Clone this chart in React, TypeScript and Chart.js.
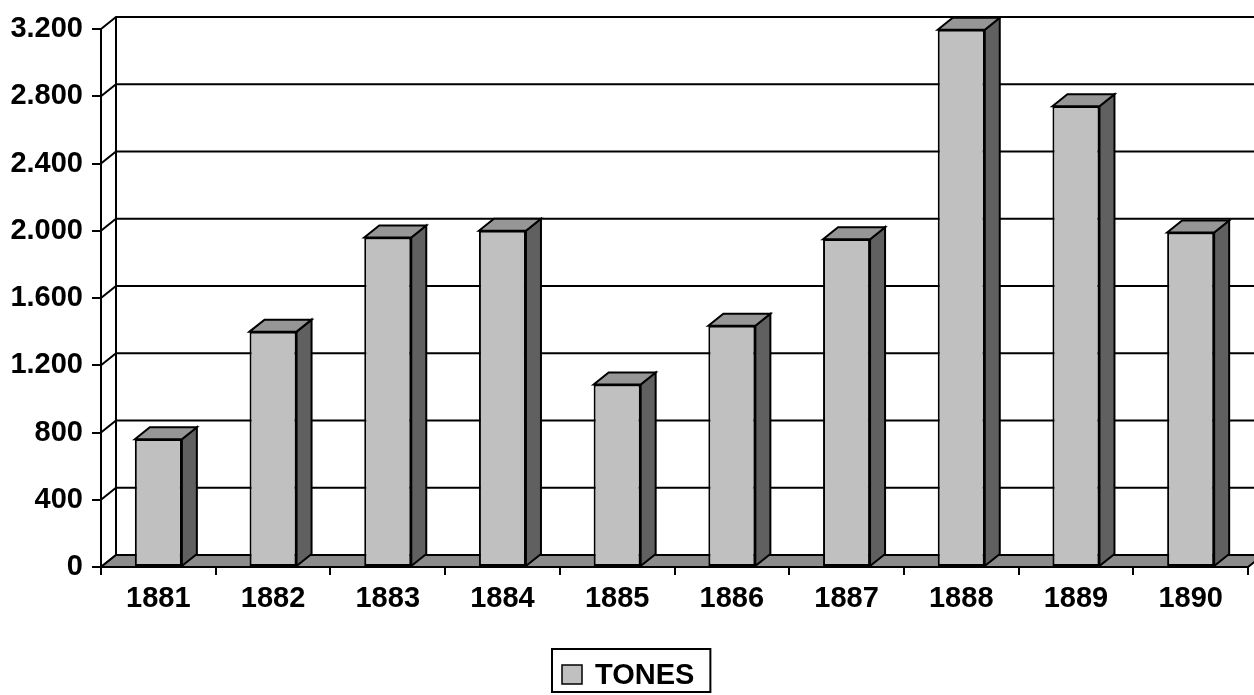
import React, { useEffect, useRef } from "react";
import { Chart, registerables } from "chart.js";

Chart.register(...registerables);

// ---- data ----
const YEARS: string[] = ["1881", "1882", "1883", "1884", "1885", "1886", "1887", "1888", "1889", "1890"];
const TONES: number[] = [760, 1400, 1960, 2000, 1085, 1435, 1950, 3195, 2740, 1990];
const SERIES_LABEL = "TONES";
const Y_MIN = 0;
const Y_MAX = 3200;
const Y_STEP = 400;

// ---- style ----
const FRONT = "#c0c0c0";
const SIDE = "#606060";
const TOP = "#969696";
const FLOOR = "#8c8c8c";
const DX = 15;
const DY = 12;
const FONT = '"Liberation Sans", Arial, Helvetica, sans-serif';
const FONT_SIZE = 29;

function fmt(v: number): string {
  return String(v).replace(/\B(?=(\d{3})+(?!\d))/g, ".");
}

const depthPlugin = {
  id: "depth3d",
  beforeDatasetsDraw(chart: any) {
    const { ctx, chartArea: a } = chart;
    const y = chart.scales.y;
    ctx.save();
    ctx.strokeStyle = "#000";
    ctx.lineWidth = 2;
    ctx.lineJoin = "miter";
    for (let v = Y_MIN; v <= Y_MAX; v += Y_STEP) {
      const py = y.getPixelForValue(v);
      ctx.beginPath();
      ctx.moveTo(a.left, py);
      ctx.lineTo(a.left + DX, py - DY);
      if (v !== Y_MIN) ctx.lineTo(a.right + DX, py - DY);
      ctx.stroke();
    }
    ctx.beginPath();
    ctx.moveTo(a.left + DX, a.top - DY);
    ctx.lineTo(a.left + DX, a.bottom - DY);
    ctx.stroke();
    // floor
    ctx.beginPath();
    ctx.moveTo(a.left, a.bottom);
    ctx.lineTo(a.right, a.bottom);
    ctx.lineTo(a.right + DX, a.bottom - DY);
    ctx.lineTo(a.left + DX, a.bottom - DY);
    ctx.closePath();
    ctx.fillStyle = FLOOR;
    ctx.fill();
    ctx.stroke();
    ctx.restore();
  },
  afterDatasetsDraw(chart: any) {
    const { ctx } = chart;
    const meta = chart.getDatasetMeta(0);
    ctx.save();
    ctx.strokeStyle = "#000";
    ctx.lineWidth = 2;
    ctx.lineJoin = "miter";
    meta.data.forEach((el: any) => {
      const { x, y, base, width } = el.getProps(["x", "y", "base", "width"], true);
      const L = x - width / 2;
      const R = x + width / 2;
      // side face
      ctx.beginPath();
      ctx.moveTo(R, y);
      ctx.lineTo(R + DX, y - DY);
      ctx.lineTo(R + DX, base - DY);
      ctx.lineTo(R, base);
      ctx.closePath();
      ctx.fillStyle = SIDE;
      ctx.fill();
      ctx.stroke();
      // top face
      ctx.beginPath();
      ctx.moveTo(L, y);
      ctx.lineTo(L + DX, y - DY);
      ctx.lineTo(R + DX, y - DY);
      ctx.lineTo(R, y);
      ctx.closePath();
      ctx.fillStyle = TOP;
      ctx.fill();
      ctx.stroke();
    });
    ctx.restore();
  },
  afterDraw(chart: any) {
    const { ctx } = chart;
    ctx.save();
    ctx.font = `bold ${FONT_SIZE}px ${FONT}`;
    const tw = ctx.measureText(SERIES_LABEL).width;
    const padL = 10, sw = 20, gap = 13, padR = 16;
    const bw = padL + sw + gap + tw + padR;
    const bh = 43;
    const bx = Math.round(chart.width / 2 + 4.5 - bw / 2);
    const by = chart.height - 46;
    ctx.fillStyle = "#fff";
    ctx.fillRect(bx, by, bw, bh);
    ctx.strokeStyle = "#000";
    ctx.lineWidth = 2;
    ctx.strokeRect(bx, by, bw, bh);
    ctx.fillStyle = FRONT;
    ctx.fillRect(bx + padL, by + 16, sw, 19);
    ctx.lineWidth = 1.5;
    ctx.strokeRect(bx + padL, by + 16, sw, 19);
    ctx.fillStyle = "#000";
    ctx.textBaseline = "alphabetic";
    ctx.textAlign = "left";
    ctx.fillText(SERIES_LABEL, bx + padL + sw + gap, by + 35);
    ctx.restore();
  },
};

export default function App() {
  const ref = useRef<HTMLCanvasElement | null>(null);
  useEffect(() => {
    if (!ref.current) return;
    const tickFont = { family: FONT, size: FONT_SIZE, weight: "bold" as const };
    const chart = new Chart(ref.current, {
      type: "bar",
      data: {
        labels: YEARS,
        datasets: [
          {
            label: SERIES_LABEL,
            data: TONES,
            backgroundColor: FRONT,
            borderColor: "#000",
            borderWidth: 2,
            borderSkipped: false,
            barPercentage: 0.41,
            categoryPercentage: 1,
          },
        ],
      },
      options: {
        responsive: false,
        animation: false,
        layout: { padding: { top: 29, right: 6, left: 0, bottom: 0 } },
        plugins: { legend: { display: false }, tooltip: { enabled: false } },
        scales: {
          x: {
            grid: { offset: true, drawOnChartArea: false, drawTicks: true, tickLength: 8, color: "#000", lineWidth: 2 },
            border: { display: true, color: "#000", width: 2 },
            ticks: { font: tickFont, color: "#000", padding: 7, maxRotation: 0, autoSkip: false },
            afterFit: (s: any) => { s.height = 128; },
          },
          y: {
            min: Y_MIN,
            max: Y_MAX,
            ticks: { stepSize: Y_STEP, callback: (v: any) => fmt(Number(v)), font: tickFont, color: "#000", padding: 9 },
            grid: { drawOnChartArea: false, tickLength: 9, color: "#000", lineWidth: 2 },
            border: { display: true, color: "#000", width: 2 },
            afterFit: (s: any) => { s.width = 101; },
          },
        },
      } as any,
      plugins: [depthPlugin],
    });
    return () => chart.destroy();
  }, []);
  return (
    <div style={{ position: "fixed", left: 0, top: 0, width: 1254, height: 695, background: "#fff" }}>
      <canvas ref={ref} width={1254} height={695} style={{ display: "block" }} />
    </div>
  );
}
